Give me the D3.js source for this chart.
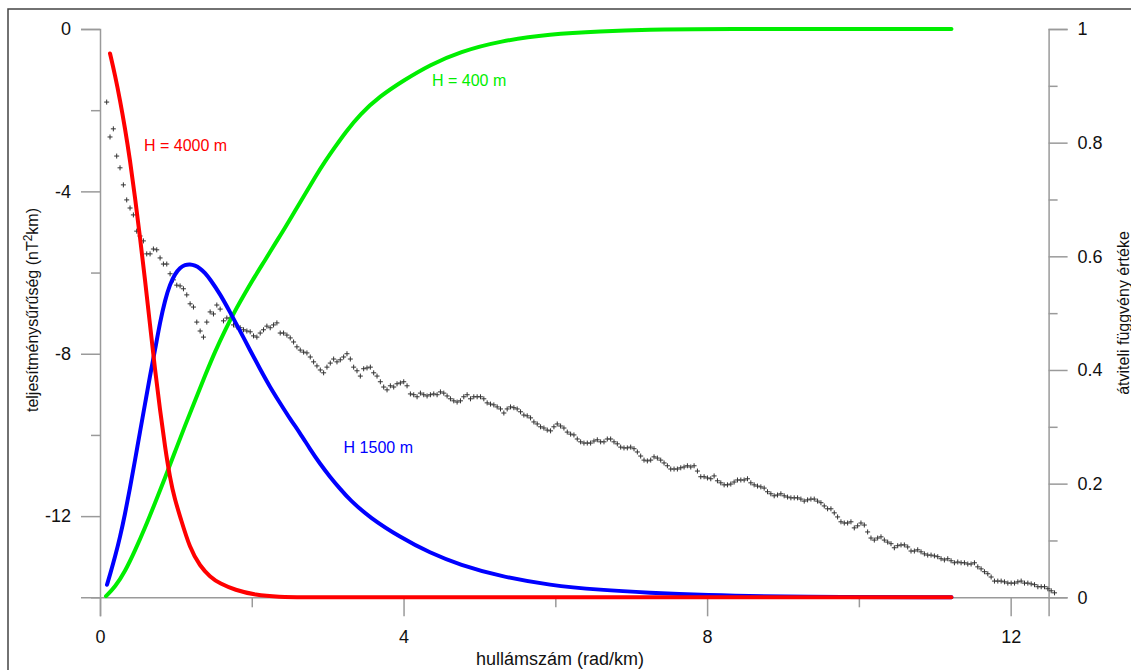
<!DOCTYPE html>
<html><head><meta charset="utf-8">
<script src="https://cdn.jsdelivr.net/npm/d3@7"></script>
<style>
html,body{margin:0;padding:0;background:#fff;}
svg{display:block;font-family:"Liberation Sans",Arial,sans-serif;}
</style></head>
<body>
<svg id="chart" width="1131" height="670"></svg>
<script>
// ---- data ----
const xTicks = [0,2,4,6,8,10,12];
const xTickLabels = ["0","","4","","8","","12"];
const leftTicks = [0,-2,-4,-6,-8,-10,-12,-14];
const leftTickLabels = ["0","","-4","","-8","","-12",""];
const rightTicks = [0,0.1,0.2,0.3,0.4,0.5,0.6,0.7,0.8,0.9,1];
const rightTickLabels = ["0","","0.2","","0.4","","0.6","","0.8","","1"];

// power spectrum (left axis), uniformly spaced wavenumbers
const specK0 = 0.088, specDk = 0.04398;
const specVals = [
-1.80,-2.66,-2.46,-3.13,-3.42,-3.84,-4.21,-4.41,-4.58,-4.98,-5.10,-5.22,-5.54,-5.54,-5.42,-5.44,-5.64,-5.79,-5.79,-6.03,
-6.18,-6.31,-6.33,-6.40,-6.55,-6.77,-6.85,-7.22,-7.44,-7.59,-7.22,-6.97,-7.02,-6.80,-6.90,-7.19,-7.12,-7.12,-7.29,-7.34,
-7.36,-7.41,-7.44,-7.46,-7.56,-7.59,-7.49,-7.41,-7.32,-7.36,-7.29,-7.24,-7.49,-7.49,-7.54,-7.61,-7.71,-7.83,-7.91,
-7.96,-7.98,-8.08,-8.20,-8.30,-8.40,-8.47,-8.33,-8.23,-8.13,-8.20,-8.15,-8.08,-8.00,-8.13,-8.33,-8.42,-8.55,-8.37,-8.35,
-8.33,-8.47,-8.55,-8.69,-8.82,-8.89,-8.79,-8.82,-8.74,-8.72,-8.69,-8.79,-8.99,-9.01,-9.06,-8.97,-9.01,-9.04,-9.01,-8.99,
-9.01,-8.94,-8.97,-9.04,-9.11,-9.16,-9.19,-9.16,-9.06,-9.01,-9.11,-9.06,-9.06,-9.06,-9.11,-9.21,-9.24,-9.26,-9.31,-9.36,
-9.46,-9.36,-9.31,-9.33,-9.36,-9.43,-9.51,-9.53,-9.58,-9.68,-9.73,-9.80,-9.83,-9.88,-9.90,-9.80,-9.73,-9.78,-9.83,-9.93,
-9.98,-10.00,-10.10,
-10.17,-10.20,-10.20,-10.20,-10.15,-10.12,-10.17,-10.17,-10.10,-10.10,-10.17,-10.22,-10.30,-10.32,-10.32,-10.30,-10.34,-10.42,-10.52,-10.62,
-10.64,-10.62,-10.54,-10.57,-10.62,-10.69,-10.76,-10.84,-10.84,-10.84,-10.81,-10.79,-10.76,-10.79,-10.76,-10.89,-11.03,-11.03,-11.06,-11.08,
-11.01,-11.13,-11.18,-11.23,-11.23,-11.21,-11.16,-11.11,-11.11,-11.11,-11.08,-11.18,-11.23,-11.26,-11.28,-11.31,-11.40,-11.45,-11.50,-11.48,
-11.45,-11.50,-11.53,-11.55,-11.55,-11.55,-11.58,-11.63,-11.60,-11.58,-11.58,-11.63,-11.67,
-11.75,-11.82,-11.82,-11.92,-12.02,-12.14,-12.17,-12.17,-12.14,-12.29,-12.24,-12.17,-12.22,-12.39,-12.54,-12.59,-12.54,-12.51,-12.59,-12.64,
-12.68,-12.78,-12.73,-12.71,-12.71,-12.76,-12.86,-12.86,-12.83,-12.88,-12.93,-12.96,-12.96,-12.98,-13.00,-13.05,-13.08,-13.05,-13.10,-13.15,
-13.13,-13.15,-13.15,-13.18,-13.18,-13.15,-13.25,-13.30,-13.37,-13.42,-13.50,-13.60,-13.60,-13.60,-13.62,-13.65,-13.65,-13.65,-13.62,-13.60,
-13.65,-13.65,-13.67,-13.69,-13.74,-13.74,-13.74,-13.79,-13.84,-13.89
];

// transfer functions (right axis)
const redK   = [0.132,0.198,0.264,0.329,0.395,0.461,0.527,0.593,0.659,0.725,0.791,0.857,0.922,0.988,1.054,1.186,1.318,1.449,1.581,1.779,2.042,2.372,2.635,4,6,8,10,11.22];
const redVal = [0.957,0.919,0.875,0.826,0.770,0.704,0.634,0.559,0.480,0.400,0.330,0.264,0.210,0.171,0.143,0.085,0.055,0.036,0.024,0.013,0.004,0.0005,0,0,0,0,0,0];
const blueK   = [0.092,0.132,0.198,0.264,0.329,0.395,0.461,0.527,0.593,0.659,0.725,0.791,0.857,0.922,0.988,1.054,1.120,1.186,1.252,1.318,1.384,1.449,1.581,1.713,1.845,1.976,2.108,2.240,2.372,2.504,2.635,2.767,2.899,3.031,3.162,3.294,3.558,3.953,4.348,4.744,5.271,5.930,6.589,7.248,7.907,9.224,11.22];
const blueVal = [0.022,0.040,0.071,0.106,0.146,0.192,0.241,0.291,0.340,0.390,0.435,0.484,0.523,0.551,0.569,0.580,0.585,0.586,0.584,0.579,0.571,0.560,0.534,0.502,0.469,0.435,0.402,0.370,0.342,0.314,0.289,0.261,0.235,0.212,0.191,0.171,0.140,0.106,0.078,0.057,0.037,0.021,0.013,0.008,0.004,0.0005,0];
const greenK   = [0.079,0.198,0.329,0.461,0.593,0.725,0.857,0.988,1.120,1.252,1.384,1.515,1.647,1.779,1.911,2.042,2.174,2.306,2.438,2.569,2.701,2.833,2.965,3.096,3.228,3.426,3.690,4.006,4.348,4.744,5.271,5.930,6.589,7.248,7.907,11.22];
const greenVal = [0.002,0.018,0.045,0.082,0.122,0.166,0.210,0.256,0.302,0.346,0.390,0.432,0.470,0.504,0.535,0.565,0.593,0.622,0.650,0.680,0.709,0.739,0.767,0.792,0.817,0.850,0.882,0.910,0.937,0.960,0.979,0.991,0.996,0.999,1,1];

const labels = [
  {text:"H = 4000 m", k:0.58, v:0.795, color:"#ff0000"},
  {text:"H = 400 m",  k:4.375, v:0.910, color:"#00ee00"},
  {text:"H 1500 m",   k:3.21, v:0.264, color:"#0000ff"}
];

// ---- drawing ----
const svg = d3.select("#chart");
const x = d3.scaleLinear().domain([0,12.5]).range([100,1048.6]);
const yL = d3.scaleLinear().domain([-14,0]).range([597.3,29]);
const yR = d3.scaleLinear().domain([0,1]).range([597.3,29]);

svg.append("rect").attr("width",1131).attr("height",670).attr("fill","#fff");
svg.append("rect").attr("x",8).attr("y",9).attr("width",1140).attr("height",700)
  .attr("fill","none").attr("stroke","#444").attr("stroke-width",1.5);

const axisColor = "#9a9a9a";
function styleAxis(g){
  g.select(".domain").attr("stroke",axisColor).attr("stroke-width",1.5);
  g.selectAll(".tick line").attr("stroke",axisColor).attr("stroke-width",1.5);
  g.selectAll(".tick text").attr("fill","#111").attr("font-size",18)
    .attr("font-family",'"Liberation Sans",Arial,sans-serif');
}

// left axis
const gl = svg.append("g").attr("transform","translate(100,0)")
  .call(d3.axisLeft(yL).tickValues(leftTicks).tickSizeOuter(0).tickSize(19).tickPadding(10)
    .tickFormat((d,i)=>leftTickLabels[i]));
gl.selectAll(".tick line").attr("x2",(d,i)=> leftTickLabels[i]==="" ? -9 : -19);
styleAxis(gl);

// right axis
const gr = svg.append("g").attr("transform","translate(1048.6,0)")
  .call(d3.axisRight(yR).tickValues(rightTicks).tickSizeOuter(0).tickSize(19).tickPadding(10)
    .tickFormat((d,i)=>rightTickLabels[i]));
gr.selectAll(".tick line").attr("x2",(d,i)=> rightTickLabels[i]==="" ? 9 : 19);
styleAxis(gr);

// bottom axis
const gb = svg.append("g").attr("transform","translate(0,597.3)")
  .call(d3.axisBottom(x).tickValues(xTicks).tickSizeOuter(0).tickSize(19).tickPadding(14)
    .tickFormat((d,i)=>xTickLabels[i]));
gb.selectAll(".tick line").attr("y2",(d,i)=> xTickLabels[i]==="" ? 10 : 19);
styleAxis(gb);

// scatter
const spec = specVals.map((v,i)=>({k: specK0 + i*specDk, v}));
svg.append("g").selectAll("path").data(spec).join("path")
  .attr("transform",d=>`translate(${x(d.k)},${yL(d.v)})`)
  .attr("d","M-2.5,0H2.5M0,-2.5V2.5")
  .attr("stroke","#333").attr("stroke-width",1).attr("fill","none");

// curves
const line = d3.line().x(d=>x(d[0])).y(d=>yR(d[1])).curve(d3.curveBasis);
function drawCurve(ks, vs, color){
  svg.append("path").datum(ks.map((k,i)=>[k,vs[i]]))
    .attr("d",line).attr("fill","none").attr("stroke",color)
    .attr("stroke-width",4).attr("stroke-linecap","round").attr("stroke-linejoin","round");
}
drawCurve(greenK, greenVal, "#00ee00");
drawCurve(blueK, blueVal, "#0000ff");
drawCurve(redK, redVal, "#ff0000");

// curve labels
svg.append("g").selectAll("text").data(labels).join("text")
  .attr("x",d=>x(d.k)).attr("y",d=>yR(d.v)).attr("dy","0.35em")
  .attr("font-size",16).attr("fill",d=>d.color).text(d=>d.text);

// axis titles
svg.append("text").attr("x",560).attr("y",659).attr("dy","0.35em").attr("text-anchor","middle")
  .attr("font-size",18).attr("fill","#111").text("hullámszám (rad/km)");
const lt = svg.append("text").attr("transform","translate(32,310) rotate(-90)").attr("dy","0.35em")
  .attr("text-anchor","middle").attr("font-size",16).attr("fill","#111");
lt.append("tspan").text("teljesítménysűrűség (nT");
lt.append("tspan").attr("dy","-6").attr("font-size",12).text("2");
lt.append("tspan").attr("dy","6").text("km)");
svg.append("text").attr("transform","translate(1123,313) rotate(-90)").attr("dy","0.35em")
  .attr("text-anchor","middle").attr("font-size",16).attr("fill","#111").text("átviteli függvény értéke");
</script>
</body></html>
